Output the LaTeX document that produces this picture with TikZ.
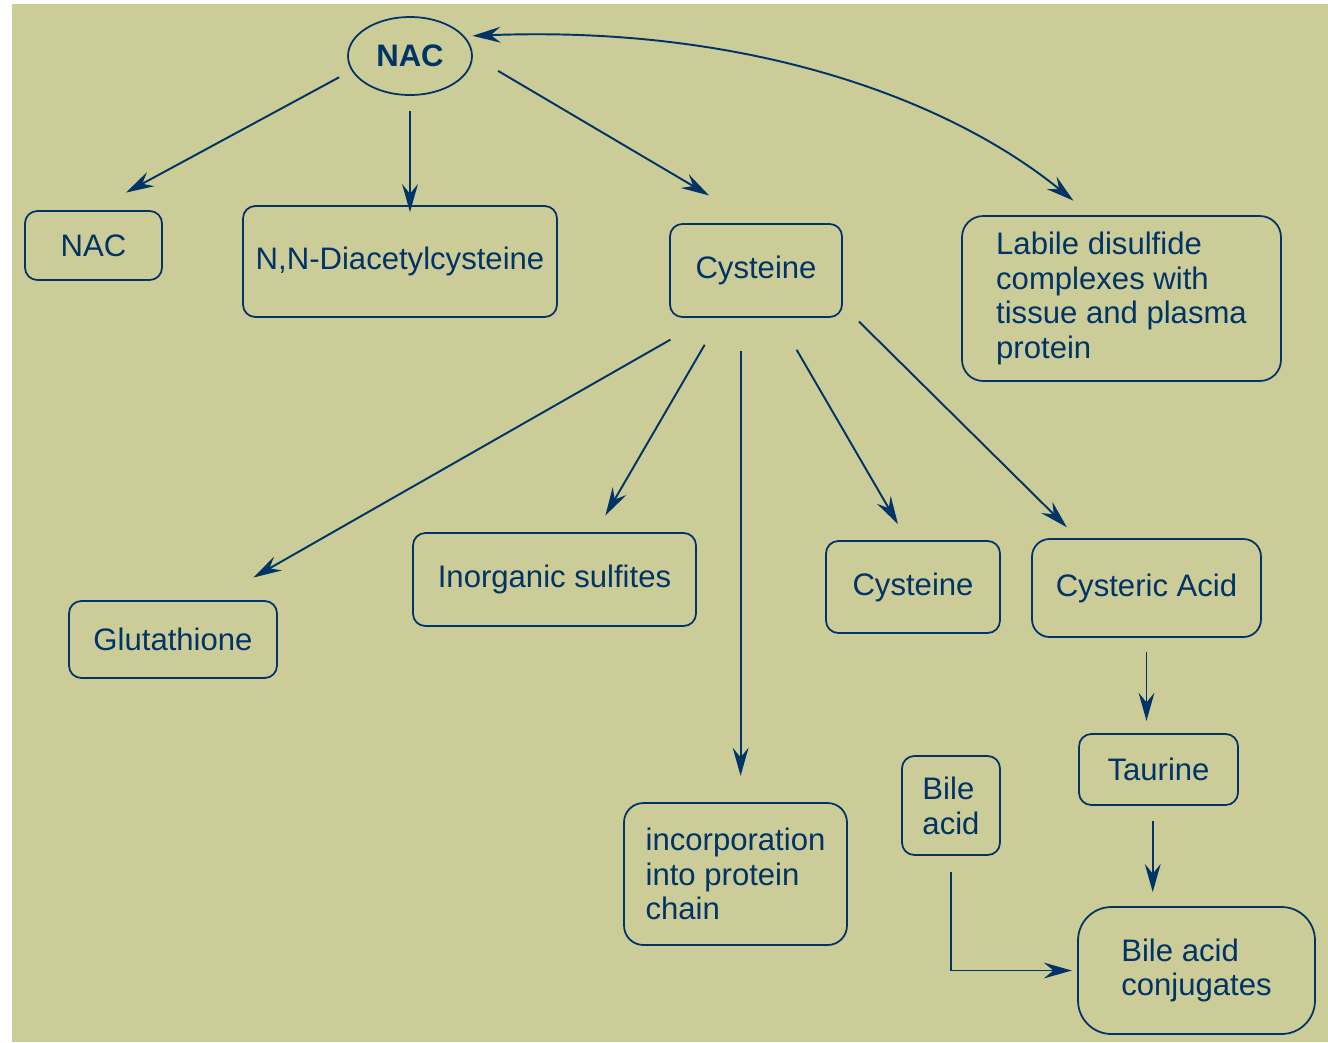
\documentclass[tikz,border=0pt]{standalone}
\usepackage{fontspec}
\setmainfont{Liberation Sans}
\usetikzlibrary{arrows.meta,shapes.geometric}
\usepackage{xcolor}
\definecolor{ink}{RGB}{0,51,102}
\definecolor{khaki}{RGB}{204,204,153}

\begin{document}
\begin{tikzpicture}[
  x=0.02cm, y=-0.02cm,
  box/.style={rectangle, rounded corners=7pt, draw=ink, line width=1pt, text=ink, inner sep=0pt, align=left, font=\fontsize{17.7pt}{19.8pt}\selectfont},
  oval/.style={ellipse, draw=ink, line width=1pt, text=ink, inner sep=0pt, font=\fontsize{17.7pt}{19.8pt}\selectfont\bfseries},
  flow/.style={-{Stealth[length=16pt,width=9pt,inset=5.5pt]}, line width=1.1pt, draw=ink}
]
\useasboundingbox (0,0) rectangle (1328,1042);
\fill[khaki] (12,4) rectangle (1328,1042);

\node[oval] (nac) at (410,56) [minimum width=2.48cm, minimum height=1.56cm] {NAC};
\node[box] (nacbox) at (93.5,245.5) [minimum width=2.74cm, minimum height=1.38cm] {NAC};
\node[box] (diacetyl) at (400,261.5) [minimum width=6.28cm, minimum height=2.22cm] {N,N-Diacetylcysteine};
\node[box] (cys) at (756,270.5) [minimum width=3.44cm, minimum height=1.86cm] {Cysteine};
\node[box, rounded corners=12pt] (labile) at (1121.5,298.5) [minimum width=6.38cm, minimum height=3.30cm]
  {Labile disulfide\\complexes with\\tissue and plasma\\protein};
\node[box] (gsh) at (173,639.5) [minimum width=4.16cm, minimum height=1.54cm] {Glutathione};
\node[box] (sulfites) at (554.5,579.5) [minimum width=5.66cm, minimum height=1.86cm] {Inorganic sulfites};
\node[box] (cysb) at (913,587) [minimum width=3.48cm, minimum height=1.84cm] {Cysteine};
\node[box, rounded corners=10pt] (cysteric) at (1146.5,588) [minimum width=4.58cm, minimum height=1.96cm] {Cysteric Acid};
\node[box] (taurine) at (1158.5,769.5) [minimum width=3.18cm, minimum height=1.42cm] {Taurine};
\node[box] (bile) at (951,805.5) [minimum width=1.96cm, minimum height=1.98cm] {Bile\\acid};
\node[box, rounded corners=11pt] (protein) at (735.5,874) [minimum width=4.46cm, minimum height=2.84cm]
  {incorporation\\into protein\\chain};
\node[box, rounded corners=19pt] (conj) at (1196.5,970.5) [minimum width=4.74cm, minimum height=2.54cm] {Bile acid\\conjugates};

% NAC and its products
\draw[flow, shorten <=8pt, shorten >=21pt] (nac.194) -- (nacbox.north);
\draw[flow, shorten <=8.5pt, shorten >=-4pt] (nac.south) -- (nac.south |- diacetyl.north);
\draw[flow, shorten <=16.7pt, shorten >=31pt] (nac.east) -- (cys.north);
\draw[{Stealth[length=16pt,width=9pt,inset=5.5pt]}-{Stealth[length=16pt,width=9pt,inset=5.5pt]}, line width=1.1pt, draw=ink, shorten <=4.5pt, shorten >=13pt]
  (nac.20) .. controls (750,25) and (950,100) .. (labile.110);

% cysteine pathways
\draw[flow, shorten <=25pt, shorten >=26pt] (cys.225) -- (gsh.44);
\draw[flow, shorten <=17.7pt, shorten >=11pt] (cys.233) -- (sulfites.49);
\draw[flow, shorten <=19pt, shorten >=15pt] (cys.252) -- (cys.252 |- protein.north);
\draw[flow, shorten <=21pt, shorten >=10.5pt] (cys.295) -- (cysb.97);
\draw[flow, shorten <=12.8pt, shorten >=8.8pt] (cys.-22) -- (cysteric.144);

% taurine route
\draw[flow, shorten <=8pt, shorten >=7pt] (cysteric.south) -- (cysteric.south |- taurine.north);
\draw[flow, shorten <=8.5pt, shorten >=8pt] (taurine.261) -- (taurine.261 |- conj.north);
\draw[flow, shorten <=9pt, shorten >=3pt] (bile.south) |- (conj.west);
\end{tikzpicture}
\end{document}
